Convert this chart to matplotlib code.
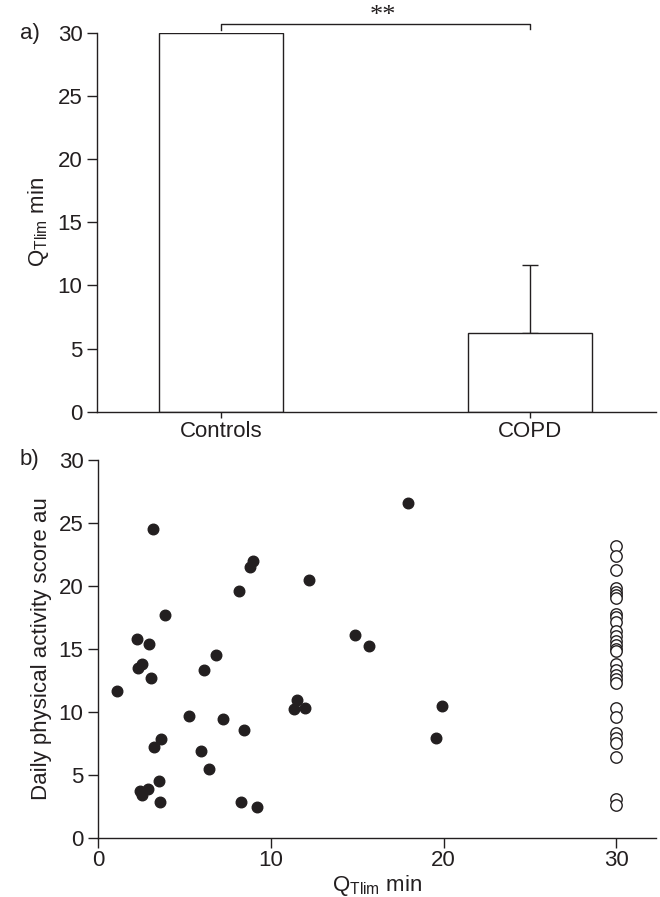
import matplotlib.pyplot as plt
import numpy as np

# fonts: narrow sans like the journal figure
plt.rcParams['font.family'] = ['Liberation Sans Narrow', 'Liberation Sans', 'DejaVu Sans']
plt.rcParams['mathtext.fontset'] = 'custom'
plt.rcParams['mathtext.rm'] = 'Liberation Sans'

ink = '#231f20'

# panel a data
groups = ['Controls', 'COPD']
qtlim_mean = [30.0, 6.25]
qtlim_sd = [0.0, 5.4]

# panel b data: COPD patients (filled)
copd_x = [3.2, 8.96, 8.8, 12.2, 8.18, 3.86, 2.24, 2.95, 14.88, 6.83, 2.53, 2.34,
          6.16, 3.05, 1.12, 11.54, 11.35, 12.0, 5.27, 7.22, 8.45, 3.65, 3.24,
          5.96, 6.41, 3.51, 2.91, 2.43, 2.57, 3.59, 8.26, 9.22, 17.97, 15.69,
          19.94, 19.55]
copd_y = [24.5, 22.0, 21.5, 20.5, 19.6, 17.7, 15.8, 15.4, 16.1, 14.5, 13.8, 13.45,
          13.3, 12.65, 11.65, 10.9, 10.2, 10.3, 9.7, 9.4, 8.55, 7.84, 7.2,
          6.86, 5.43, 4.5, 3.87, 3.71, 3.39, 2.84, 2.84, 2.46, 26.56, 15.23,
          10.5, 7.92]
# controls (open), all at 30 min
ctrl_y = [23.2, 22.4, 21.3, 19.8, 19.5, 19.3, 19.0, 17.8, 17.5, 17.1, 16.4, 16.0,
          15.6, 15.3, 15.0, 14.8, 13.8, 13.3, 12.9, 12.6, 12.3, 10.3, 9.6, 8.3,
          7.9, 7.5, 6.4, 3.1, 2.6]
ctrl_x = [30.0] * len(ctrl_y)

W, H = 660, 897
fig = plt.figure(figsize=(W / 100, H / 100), dpi=100)
fig.patch.set_facecolor('white')

def style(ax):
    for s in ['top', 'right']:
        ax.spines[s].set_visible(False)
    for s in ['left', 'bottom']:
        ax.spines[s].set_color(ink)
        ax.spines[s].set_linewidth(1.0)
    ax.tick_params(colors=ink, labelcolor=ink, labelsize=16, width=1.0, length=7)

# ---- panel a ----
ax1 = fig.add_axes([97 / W, 1 - 411.7 / H, (656 - 97) / W, (411.7 - 33) / H])
style(ax1)
pos = np.arange(len(groups))
ax1.bar(pos, qtlim_mean, width=0.4, color='white', edgecolor=ink, linewidth=1.0, zorder=2)
ax1.errorbar(pos[1], qtlim_mean[1], yerr=[[0], [qtlim_sd[1]]], color=ink,
             elinewidth=1.0, capsize=5.5, capthick=1.0, fmt='none', zorder=1)
ax1.set_xlim(-0.401, 1.408)
ax1.set_ylim(0, 30)
ax1.set_yticks(np.arange(0, 31, 5))
ax1.set_xticks(pos)
ax1.set_xticklabels(groups)
ax1.tick_params(axis='x', length=4, pad=3)
ax1.set_ylabel(r'Q$_\mathregular{Tlim}$ min', fontsize=16, color=ink, labelpad=5)
# significance bracket
bx = [0.0, 0.0, pos[1], pos[1]]
by = [30.25, 30.72, 30.72, 30.3]
ax1.plot(bx, by, color=ink, lw=1.0, clip_on=False)
ax1.text(0.524, 31.35, '**', ha='center', va='center', fontsize=19, color=ink,
         family='Liberation Serif')
fig.text(20 / W, 1 - 33 / H, 'a)', fontsize=16, color=ink, va='center', ha='left')

# ---- panel b ----
ax2 = fig.add_axes([98 / W, 1 - 837.7 / H, (656 - 98) / W, (837.7 - 460) / H])
style(ax2)
ax2.plot(copd_x, copd_y, 'o', color=ink, markersize=7.6, mec=ink, clip_on=False)
ax2.plot(ctrl_x, ctrl_y, 'o', mfc='white', mec=ink, markersize=8.2, mew=1.0,
         clip_on=False)
ax2.set_xlim(0, 32.3)
ax2.set_ylim(0, 30)
ax2.set_xticks([0, 10, 20, 30])
ax2.set_yticks(np.arange(0, 31, 5))
ax2.tick_params(axis='x', pad=2)
ax2.set_ylabel('Daily physical activity score au', fontsize=16, color=ink, labelpad=5)
ax2.set_xlabel(r'Q$_\mathregular{Tlim}$ min', fontsize=16, color=ink, labelpad=1)
fig.text(20 / W, 1 - 460 / H, 'b)', fontsize=16, color=ink, va='center', ha='left')

fig.savefig('out.png', dpi=100, facecolor='white')
